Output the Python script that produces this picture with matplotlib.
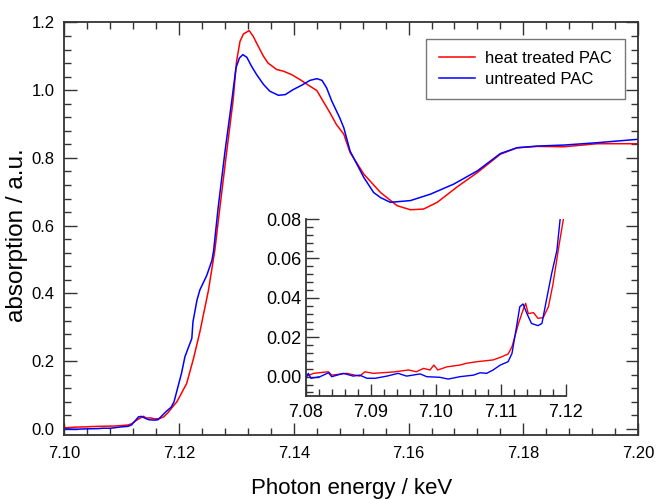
import matplotlib
matplotlib.use("Agg")
import matplotlib.pyplot as plt
from matplotlib.ticker import MultipleLocator, FormatStrFormatter

plt.rcParams["font.family"] = ["Liberation Sans", "DejaVu Sans"]

# XANES spectra: photon energy (keV) and normalised absorption
energy_heat = [
    7.0800, 7.0812, 7.0835, 7.0840, 7.0863, 7.0883, 7.0891, 7.0904, 7.0935,
    7.0958, 7.0970, 7.0981, 7.0991, 7.0997, 7.1003, 7.1017, 7.1037, 7.1047,
    7.1063, 7.1088, 7.1099, 7.1111, 7.1117, 7.1127, 7.1134, 7.1138, 7.1142,
    7.1150, 7.1157, 7.1165, 7.1173, 7.1180, 7.1188, 7.1196, 7.1213, 7.1225,
    7.1236, 7.1251, 7.1262, 7.1271, 7.1283, 7.1294, 7.1300, 7.1306, 7.1312,
    7.1322, 7.1329, 7.1338, 7.1347, 7.1355, 7.1370, 7.1382, 7.1396, 7.1411,
    7.1425, 7.1440, 7.1449, 7.1463, 7.1474, 7.1487, 7.1498, 7.1522, 7.1551,
    7.1580, 7.1603, 7.1626, 7.1650, 7.1685, 7.1720, 7.1760, 7.1789, 7.1824,
    7.1871, 7.1929, 7.2000,
]
absorption_heat = [
    0.0000, 0.0017, 0.0025, 0.0008, 0.0017, 0.0003, 0.0025, 0.0017, 0.0024,
    0.0034, 0.0025, 0.0042, 0.0034, 0.0059, 0.0034, 0.0050, 0.0059, 0.0068,
    0.0076, 0.0085, 0.0098, 0.0115, 0.0152, 0.0270, 0.0338, 0.0372, 0.0320,
    0.0325, 0.0296, 0.0300, 0.0355, 0.0470, 0.0640, 0.0800, 0.1340, 0.2080,
    0.2860, 0.4090, 0.5260, 0.6540, 0.8210, 0.9700, 1.0850, 1.1440, 1.1660,
    1.1760, 1.1590, 1.1290, 1.1000, 1.0800, 1.0610, 1.0560, 1.0460, 1.0310,
    1.0150, 0.9990, 0.9730, 0.9330, 0.8990, 0.8700, 0.8160, 0.7520, 0.6980,
    0.6590, 0.6470, 0.6490, 0.6690, 0.7150, 0.7570, 0.8110, 0.8300, 0.8340,
    0.8330, 0.8420, 0.8420,
]

energy_untreated = [
    7.0800, 7.0804, 7.0808, 7.0822, 7.0835, 7.0840, 7.0858, 7.0873, 7.0883,
    7.0894, 7.0907, 7.0925, 7.0942, 7.0955, 7.0976, 7.0986, 7.1006, 7.1019,
    7.1037, 7.1058, 7.1068, 7.1078, 7.1088, 7.1099, 7.1111, 7.1117, 7.1124,
    7.1129, 7.1134, 7.1140, 7.1147, 7.1157, 7.1163, 7.1170, 7.1178, 7.1186,
    7.1191, 7.1204, 7.1210, 7.1222, 7.1224, 7.1231, 7.1236, 7.1248, 7.1257,
    7.1260, 7.1268, 7.1280, 7.1292, 7.1299, 7.1305, 7.1311, 7.1318, 7.1326,
    7.1335, 7.1347, 7.1358, 7.1373, 7.1385, 7.1399, 7.1414, 7.1428, 7.1440,
    7.1449, 7.1457, 7.1466, 7.1480, 7.1487, 7.1498, 7.1522, 7.1539, 7.1551,
    7.1568, 7.1603, 7.1638, 7.1679, 7.1720, 7.1760, 7.1789, 7.1824, 7.1871,
    7.1929, 7.2000,
]
absorption_untreated = [
    -0.0008, 0.0017, -0.0008, 0.0000, 0.0020, 0.0000, 0.0017, 0.0003, 0.0008,
    -0.0008, -0.0008, 0.0003, 0.0017, 0.0003, 0.0014, 0.0000, -0.0003, -0.0012,
    0.0000, 0.0008, 0.0020, 0.0017, 0.0034, 0.0059, 0.0076, 0.0118, 0.0254,
    0.0355, 0.0369, 0.0320, 0.0270, 0.0259, 0.0270, 0.0390, 0.0524, 0.0640,
    0.0800, 0.1640, 0.2130, 0.2670, 0.3160, 0.3800, 0.4100, 0.4530, 0.4970,
    0.5260, 0.6540, 0.8210, 0.9730, 1.0660, 1.0950, 1.1050, 1.0970, 1.0710,
    1.0460, 1.0170, 0.9970, 0.9850, 0.9870, 1.0020, 1.0150, 1.0290, 1.0340,
    1.0290, 1.0070, 0.9680, 0.9180, 0.8890, 0.8200, 0.7420, 0.6980, 0.6830,
    0.6690, 0.6740, 0.6930, 0.7230, 0.7620, 0.8130, 0.8300, 0.8350, 0.8380,
    0.8450, 0.8550,
]

label_heat = "heat treated PAC"
label_untreated = "untreated PAC"

RED = "#ff0000"
BLUE = "#0000ff"
AXIS_COLOR = "#333333"

fig = plt.figure(figsize=(6.56, 4.99), dpi=100)
ax = fig.add_axes([0.0983, 0.1283, 0.8743, 0.8267])

ax.plot(energy_heat, absorption_heat, color=RED, lw=1.1, label=label_heat)
ax.plot(energy_untreated, absorption_untreated, color=BLUE, lw=1.1, label=label_untreated)

ax.set_xlim(7.10, 7.20)
ax.set_ylim(-0.018, 1.2)
ax.xaxis.set_major_locator(MultipleLocator(0.02))
ax.xaxis.set_minor_locator(MultipleLocator(0.004))
ax.yaxis.set_major_locator(MultipleLocator(0.2))
ax.yaxis.set_minor_locator(MultipleLocator(0.04))
ax.xaxis.set_major_formatter(FormatStrFormatter("%.2f"))
ax.yaxis.set_major_formatter(FormatStrFormatter("%.1f"))

ax.tick_params(which="both", direction="in", top=True, right=True,
               color=AXIS_COLOR, labelsize=12)
ax.tick_params(axis="x", pad=8)
ax.tick_params(axis="y", pad=7)
ax.tick_params(which="major", length=9, width=1.0)
ax.tick_params(which="minor", length=5, width=1.0)
for sp in ax.spines.values():
    sp.set_color(AXIS_COLOR)
    sp.set_linewidth(1.3)

ax.set_xlabel("Photon energy / keV", fontsize=16, labelpad=12)
ax.set_ylabel("absorption / a.u.", fontsize=17.5)
ax.yaxis.set_label_coords(-0.064, 0.485)

leg = ax.legend(loc="upper right", bbox_to_anchor=(0.977, 0.9607), fontsize=12,
                frameon=True, fancybox=False, handlelength=2.15,
                handletextpad=0.64, borderpad=0.75, labelspacing=0.33,
                borderaxespad=0.0)
leg.get_frame().set_edgecolor("#555555")
leg.get_frame().set_linewidth(1.0)

# Inset: pre-edge region
axi = fig.add_axes([0.466, 0.2064, 0.3968, 0.3547])
axi.patch.set_alpha(0.0)
axi.plot(energy_heat, absorption_heat, color=RED, lw=1.0)
axi.plot(energy_untreated, absorption_untreated, color=BLUE, lw=1.0)
axi.set_xlim(7.08, 7.12)
axi.set_ylim(-0.0098, 0.08)
axi.xaxis.set_major_locator(MultipleLocator(0.01))
axi.xaxis.set_minor_locator(MultipleLocator(0.002))
axi.yaxis.set_major_locator(MultipleLocator(0.02))
axi.yaxis.set_minor_locator(MultipleLocator(0.004))
axi.xaxis.set_major_formatter(FormatStrFormatter("%.2f"))
axi.yaxis.set_major_formatter(FormatStrFormatter("%.2f"))
axi.spines["top"].set_visible(False)
axi.spines["right"].set_visible(False)
for name in ("left", "bottom"):
    axi.spines[name].set_color(AXIS_COLOR)
    axi.spines[name].set_linewidth(1.3)
axi.tick_params(which="both", direction="in", color=AXIS_COLOR, labelsize=13)
axi.tick_params(axis="x", pad=6)
axi.tick_params(axis="y", pad=3)
axi.tick_params(which="major", length=9, width=1.0)
axi.tick_params(which="minor", length=5, width=1.0)

fig.savefig("out.png", dpi=100)
